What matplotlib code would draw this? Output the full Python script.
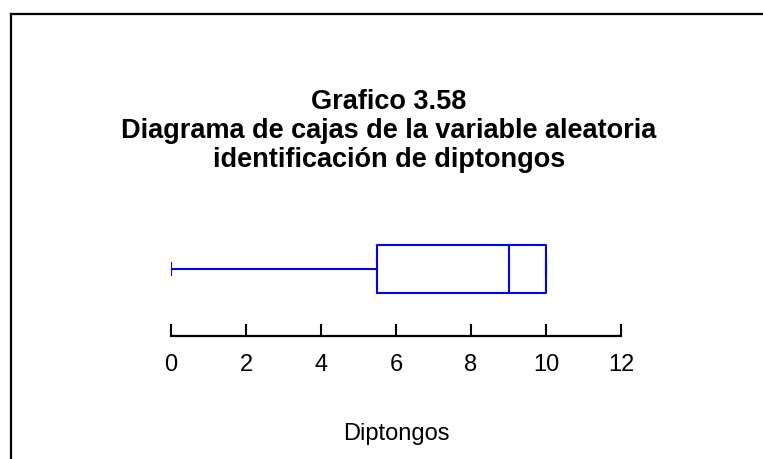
import matplotlib
matplotlib.use('Agg')
import matplotlib.pyplot as plt
from matplotlib.lines import Line2D

plt.rcParams['font.family'] = ['Liberation Sans', 'DejaVu Sans']

# resumen de cinco numeros de la variable
minimo = 0
q1 = 5.5
mediana = 9
q3 = 10
maximo = 10
ticks = [0, 2, 4, 6, 8, 10, 12]

titulo = "Grafico 3.58\nDiagrama de cajas de la variable aleatoria\nidentificación de diptongos"
etiqueta = "Diptongos"

fig = plt.figure(figsize=(7.63, 4.60), dpi=100)
ax = fig.add_axes([171/763, 123/460, 450/763, 134/460])

stats = [{'med': mediana, 'q1': q1, 'q3': q3, 'whislo': minimo, 'whishi': maximo, 'fliers': []}]
azul = (0, 0, 1)
ax.bxp(stats, positions=[0.5], widths=0.351, vert=False, showfliers=False,
       capwidths=0.085,
       boxprops=dict(color=azul, linewidth=1.5),
       whiskerprops=dict(color=azul, linewidth=1.5),
       capprops=dict(color=azul, linewidth=1.5),
       medianprops=dict(color=azul, linewidth=1.5))

ax.set_xlim(0, 12)
ax.set_ylim(0, 1)
ax.set_xticks(ticks)
ax.set_xticklabels([str(t) for t in ticks])
ax.set_yticks([])
for s in ['top', 'right', 'left']:
    ax.spines[s].set_visible(False)
ax.spines['bottom'].set_linewidth(1.6)
ax.spines['bottom'].set_capstyle('projecting')
ax.tick_params(axis='x', direction='in', length=8.5, width=1.5, pad=12, labelsize=17)
ax.set_xlabel(etiqueta, fontsize=17, labelpad=34)

fig.text(389/763, 1 - 131/460, titulo, ha='center', va='center', fontsize=19.5,
         fontweight='bold', linespacing=1.16)

# marco del grafico
fig.add_artist(Line2D([11/763, 1.0], [1 - 15/460, 1 - 15/460], color='black', linewidth=1.6))
fig.add_artist(Line2D([11/763, 11/763], [0, 1 - 15/460], color='black', linewidth=1.6))

fig.savefig('out.png', dpi=100)
